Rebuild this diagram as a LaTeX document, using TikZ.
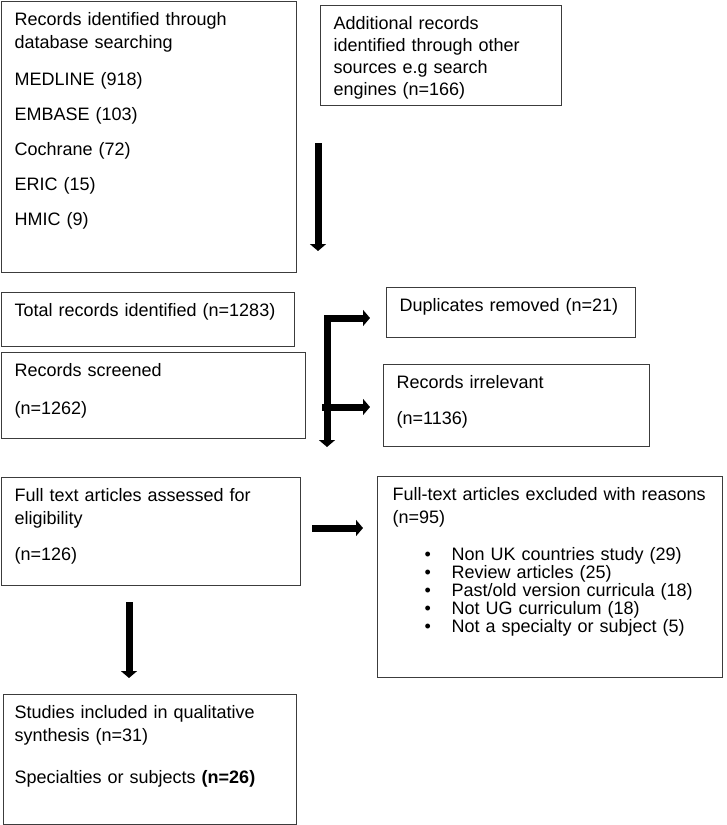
\documentclass[tikz,border=0pt]{standalone}
\usepackage{fontspec}
\setmainfont{Liberation Sans}
\usepackage{xcolor}
\usepackage{tikz}
\usetikzlibrary{arrows.meta}
\definecolor{boxline}{HTML}{3C3C3C}

\begin{document}
\begin{tikzpicture}[x=1pt, y=-1pt, ->, >={Triangle[length=7pt,width=16pt]},
  box/.style={draw=boxline, line width=1.3pt, anchor=north west, align=left, inner xsep=13pt, inner ysep=0pt, text height=24pt, font=\fontsize{18}{23}\selectfont},
  flow/.style={line width=7pt}]

\useasboundingbox (0,0) rectangle (726,825);

\node[box, text width=269pt, text depth=247pt] (db) at (1,1) {Records identified through\\database searching\\[14pt]MEDLINE (918)\\[12pt]EMBASE (103)\\[12pt]Cochrane (72)\\[12pt]ERIC (15)\\[12pt]HMIC (9)};
\node[box, text width=215pt, text depth=76pt, font=\fontsize{18}{22}\selectfont] (other) at (320,5) {Additional records\\identified through other\\sources e.g search\\engines (n=166)};
\node[box, text width=267pt, text depth=30pt] (total) at (1,292) {Total records identified (n=1283)};
\node[box, text width=278pt, text depth=62pt] (screened) at (1,352) {Records screened\\[15pt](n=1262)};
\node[box, text width=223pt, text depth=26pt] (dup) at (386,287) {Duplicates removed (n=21)};
\node[box, text width=240pt, text depth=58pt] (irrel) at (383,364) {Records irrelevant\\[13pt](n=1136)};
\node[box, text width=273pt, text depth=84pt] (full) at (1,477) {Full text articles assessed for\\eligibility\\[13pt](n=126)};
\node[box, inner xsep=15pt, text width=315pt, text depth=177pt] (excl) at (377,476) {Full-text articles excluded with reasons\\(n=95)\\[14pt]%
\hspace*{32pt}\makebox[27pt][l]{\textbullet}Non UK countries study (29)\\[-5pt]%
\hspace*{32pt}\makebox[27pt][l]{\textbullet}Review articles (25)\\[-5pt]%
\hspace*{32pt}\makebox[27pt][l]{\textbullet}Past/old version curricula (18)\\[-5pt]%
\hspace*{32pt}\makebox[27pt][l]{\textbullet}Not UG curriculum (18)\\[-5pt]%
\hspace*{32pt}\makebox[27pt][l]{\textbullet}Not a specialty or subject (5)};
\node[box, inner xsep=11pt, text width=271pt, text depth=106pt] (incl) at (3,694) {Studies included in qualitative\\synthesis (n=31)\\[19pt]Specialties or subjects \textbf{(n=26)}};

% free arrow ends
\coordinate (a1) at (318,143);
\coordinate (b1) at (318,251);
\coordinate (a2) at (370,318);
\coordinate (b2) at (327,447);
\coordinate (a3) at (322,407);
\coordinate (b3) at (370,407);
\coordinate (a4) at (312,528);
\coordinate (b4) at (363,528);
\coordinate (a5) at (129,602);
\coordinate (b5) at (129,678);

\path
(a1) edge [flow] (b1)
(a3) edge [flow] (b3)
(a4) edge [flow] (b4)
(a5) edge [flow] (b5);

\draw[flow, <->] (a2) -| (b2);

\end{tikzpicture}
\end{document}
